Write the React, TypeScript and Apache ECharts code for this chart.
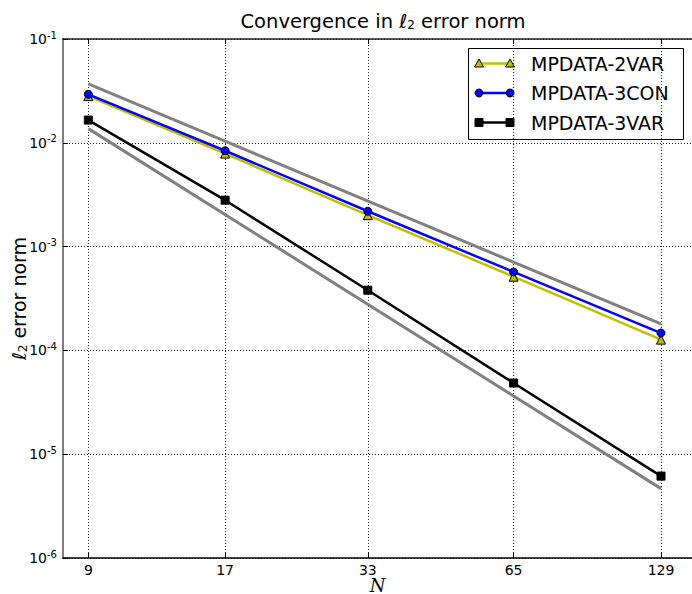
import React, { useEffect, useRef } from "react";
import * as echarts from "echarts";

// Grid sizes N and measured l2 error norms per scheme
const gridSizes = [9, 17, 33, 65, 129];
const err2Var = [0.0282, 0.00787, 0.00201, 5.13e-4, 1.27e-4];
const err3Con = [0.0293, 0.00838, 0.00219, 5.7e-4, 1.47e-4];
const err3Var = [0.01656, 0.0028, 3.8e-4, 4.85e-5, 6.15e-6];

// Reference slopes (2nd and 3rd order), given by their end points
const refSizes = [9, 129];
const refSecondOrder = [0.037, 1.8e-4];
const refThirdOrder = [0.0137, 4.66e-6];

const seriesNames = ["MPDATA-2VAR", "MPDATA-3CON", "MPDATA-3VAR"];
const seriesColors = ["#bfbf00", "#0000ff", "#000000"];

const FONT = "DejaVu Sans";

const pairs = (xs: number[], ys: number[]) => xs.map((x, i) => [x, ys[i]]);

function legendGraphic() {
  const children: any[] = [
    {
      type: "rect",
      shape: { x: 468.5, y: 48.5, width: 215, height: 91 },
      style: { fill: "#fff", stroke: "#000", lineWidth: 1 },
    },
  ];
  seriesNames.forEach((name, i) => {
    const y = 63.5 + i * 29.5;
    const color = seriesColors[i];
    children.push({
      type: "line",
      shape: { x1: 479, y1: y, x2: 510, y2: y },
      style: { stroke: color, lineWidth: 2.5 },
    });
    [479, 510].forEach((x) => {
      if (i === 0) {
        children.push({
          type: "polygon",
          shape: { points: [[x, y - 4.5], [x - 4.5, y + 3.5], [x + 4.5, y + 3.5]] },
          style: { fill: color, stroke: "#000", lineWidth: 1 },
        });
      } else if (i === 1) {
        children.push({
          type: "circle",
          shape: { cx: x, cy: y, r: 4 },
          style: { fill: color, stroke: "#000", lineWidth: 1 },
        });
      } else {
        children.push({
          type: "rect",
          shape: { x: x - 4, y: y - 4, width: 8, height: 8 },
          style: { fill: color, stroke: "#000", lineWidth: 1 },
        });
      }
    });
    children.push({
      type: "text",
      style: {
        text: name,
        x: 531,
        y,
        fontSize: 19,
        fontFamily: FONT,
        fill: "#000",
        verticalAlign: "middle",
      },
    });
  });
  return { type: "group", children, z: 100 };
}

export default function App() {
  const ref = useRef<HTMLDivElement>(null);

  useEffect(() => {
    document.body.style.margin = "0";
    const chart = echarts.init(ref.current!, undefined, { renderer: "svg" });

    const gridLine = { color: "#222", width: 1, type: [1, 2] as any };

    const option: any = {
      animation: false,
      backgroundColor: "#fff",
      textStyle: { fontFamily: FONT },
      title: {
        text: "Convergence in {l|ℓ}{sub|2} error norm",
        left: 378,
        top: 6,
        textAlign: "center",
        textStyle: {
          fontFamily: FONT,
          fontSize: 19.5,
          fontWeight: "normal",
          color: "#000",
          rich: {
            l: { fontSize: 19.5, fontFamily: FONT, fontStyle: "italic" },
            sub: { fontSize: 12, fontFamily: FONT, verticalAlign: "bottom", padding: [8, 0, 0, 0] },
          },
        },
      },
      grid: { left: 63, top: 39, width: 629, height: 519, show: false, outerBoundsMode: "none", containLabel: false },
      xAxis: [
        {
          type: "log",
          logBase: 2,
          min: 8,
          max: 149,
          position: "bottom",
          name: "N",
          nameLocation: "middle",
          nameGap: 20,
          nameMoveOverlap: false,
          nameTextStyle: {
            fontFamily: "DejaVu Serif",
            fontStyle: "italic",
            fontSize: 18,
            lineHeight: 14,
            color: "#000",
          },
          axisLine: { show: true, lineStyle: { color: "#000", width: 1.5 } },
          axisTick: {
            show: true,
            inside: true,
            length: 5,
            customValues: gridSizes,
            lineStyle: { color: "#000" },
          },
          minorTick: { show: false },
          axisLabel: {
            customValues: gridSizes,
            fontSize: 14,
            color: "#000",
            margin: 5,
            formatter: (v: number) => String(Math.round(v)),
          },
          splitLine: { show: true, lineStyle: gridLine },
        },
        {
          type: "log",
          logBase: 2,
          min: 8,
          max: 149,
          position: "top",
          axisLine: { show: true, lineStyle: { color: "#222", width: 1.5 } },
          axisTick: {
            show: true,
            inside: true,
            length: 5,
            customValues: gridSizes,
            lineStyle: { color: "#000" },
          },
          axisLabel: { show: false },
          splitLine: { show: false },
        },
      ],
      yAxis: {
        type: "log",
        logBase: 10,
        min: 1e-6,
        max: 1e-1,
        name: "{l|ℓ}{sub|2} error norm",
        nameLocation: "middle",
        nameRotate: 90,
        nameGap: 34,
        nameMoveOverlap: false,
        nameTextStyle: {
          fontFamily: FONT,
          fontSize: 19,
          color: "#000",
          rich: {
            l: { fontSize: 19, fontFamily: FONT, fontStyle: "italic" },
            sub: { fontSize: 12, fontFamily: FONT, verticalAlign: "bottom", padding: [8, 0, 0, 0] },
          },
        },
        axisLine: { show: true, lineStyle: { color: "#808080", width: 2 } },
        axisTick: { show: true, inside: true, length: 5, lineStyle: { color: "#000" } },
        minorTick: { show: false },
        axisLabel: {
          color: "#000",
          margin: 6,
          formatter: (v: number) => `{b|10}{s|${Math.round(Math.log10(v))}}`,
          rich: {
            b: { fontSize: 14, fontFamily: FONT, color: "#000" },
            s: { fontSize: 10, fontFamily: FONT, color: "#000", verticalAlign: "top", padding: [0, 0, 8, 0] },
          },
        },
        splitLine: { show: true, lineStyle: gridLine },
      },
      series: [
        {
          type: "line",
          data: pairs(refSizes, refSecondOrder),
          symbol: "none",
          lineStyle: { color: "#808080", width: 3 },
          silent: true,
        },
        {
          type: "line",
          data: pairs(refSizes, refThirdOrder),
          symbol: "none",
          lineStyle: { color: "#808080", width: 3 },
          silent: true,
        },
        {
          name: seriesNames[0],
          type: "line",
          data: pairs(gridSizes, err2Var),
          symbol: "triangle",
          symbolSize: 9,
          lineStyle: { color: seriesColors[0], width: 2.5 },
          itemStyle: { color: seriesColors[0], borderColor: "#000", borderWidth: 1 },
        },
        {
          name: seriesNames[1],
          type: "line",
          data: pairs(gridSizes, err3Con),
          symbol: "circle",
          symbolSize: 8,
          lineStyle: { color: seriesColors[1], width: 2.5 },
          itemStyle: { color: seriesColors[1], borderColor: "#000", borderWidth: 1 },
        },
        {
          name: seriesNames[2],
          type: "line",
          data: pairs(gridSizes, err3Var),
          symbol: "rect",
          symbolSize: 8,
          lineStyle: { color: seriesColors[2], width: 2.5 },
          itemStyle: { color: seriesColors[2], borderColor: "#000", borderWidth: 1 },
        },
      ],
      graphic: [legendGraphic()],
    };

    chart.setOption(option);
    return () => chart.dispose();
  }, []);

  return <div ref={ref} style={{ width: 692, height: 594 }} />;
}
